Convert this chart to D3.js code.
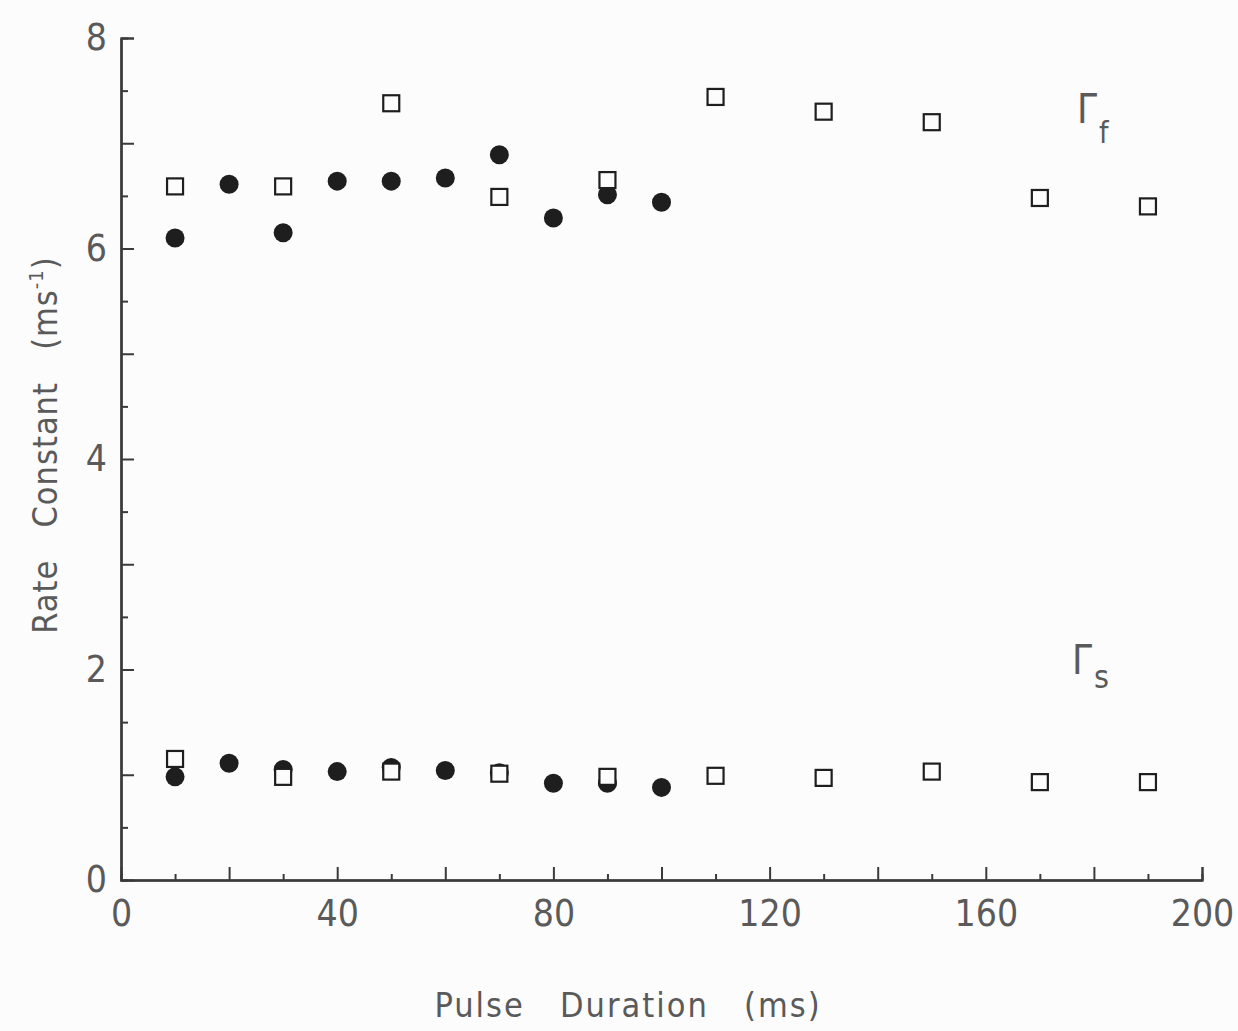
<!DOCTYPE html>
<html>
<head>
<meta charset="utf-8">
<script src="https://cdn.jsdelivr.net/npm/d3@7"></script>
<style>
  html, body { margin: 0; padding: 0; background: #fcfcfc; }
  svg { display: block; }
  text { font-family: "DejaVu Sans Condensed", "DejaVu Sans", sans-serif; font-weight: 200; fill: #5a5a5a; white-space: pre; }
</style>
</head>
<body>
<svg id="chart" width="1238" height="1031"></svg>
<script>
// pulse durations (ms)
var squareX = [10, 30, 50, 70, 90, 110, 130, 150, 170, 190]
var dotX = [10, 20, 30, 40, 50, 60, 70, 80, 90, 100]

// rate constants (ms^-1)
var squareFast = [6.59, 6.59, 7.38, 6.49, 6.65, 7.44, 7.30, 7.20, 6.48, 6.40]
var squareSlow = [1.15, 0.98, 1.03, 1.01, 0.98, 0.99, 0.97, 1.03, 0.93, 0.93]
var dotFast = [6.10, 6.61, 6.15, 6.64, 6.64, 6.67, 6.89, 6.29, 6.51, 6.44]
var dotSlow = [0.98, 1.11, 1.05, 1.03, 1.07, 1.04, 1.02, 0.92, 0.92, 0.88]

var xTickLabels = [0, 40, 80, 120, 160, 200]
var yTickLabels = [0, 2, 4, 6, 8]

var svg = d3.select("#chart")
var x = d3.scaleLinear().domain([0, 200]).range([121, 1202])
var y = d3.scaleLinear().domain([0, 8]).range([880, 38])

var axisColor = "#3a3a3a"

// minor ticks first
svg.append("g")
  .attr("transform", "translate(0,880)")
  .call(d3.axisBottom(x).tickValues(d3.range(10, 200, 20)).tickSize(-6).tickFormat(""))
svg.append("g")
  .attr("transform", "translate(0,880)")
  .call(d3.axisBottom(x).tickValues(d3.range(20, 201, 20)).tickSize(-13).tickFormat(""))
svg.append("g")
  .attr("transform", "translate(121,0)")
  .call(d3.axisLeft(y).tickValues(d3.range(0.5, 8, 1)).tickSize(-7).tickFormat(""))
svg.append("g")
  .attr("transform", "translate(121,0)")
  .call(d3.axisLeft(y).tickValues(d3.range(1, 9, 1)).tickSize(-13).tickFormat(""))

// labelled axes
svg.append("g")
  .attr("transform", "translate(0,880)")
  .call(d3.axisBottom(x).tickValues(xTickLabels).tickSize(0).tickPadding(20))
svg.append("g")
  .attr("transform", "translate(121,0)")
  .call(d3.axisLeft(y).tickValues(yTickLabels).tickSize(0).tickPadding(14))

svg.selectAll(".domain").attr("stroke", axisColor).attr("stroke-width", 2)
svg.selectAll(".tick line").attr("stroke", axisColor).attr("stroke-width", 2)
svg.selectAll(".tick text").attr("font-size", 37).attr("fill", "#5a5a5a")
  .style("font-family", '"DejaVu Sans Condensed", "DejaVu Sans", sans-serif')
  .style("font-weight", 200)

// axis titles
svg.append("text")
  .attr("x", 628).attr("y", 1017)
  .attr("text-anchor", "middle")
  .attr("font-size", 34)
  .attr("letter-spacing", 2)
  .text("Pulse   Duration   (ms)")

var yTitle = svg.append("text")
  .attr("transform", "translate(57,445) rotate(-90)")
  .attr("text-anchor", "middle")
  .attr("font-size", 34)
  .attr("letter-spacing", 1)
yTitle.append("tspan").text("Rate   Constant   (ms")
yTitle.append("tspan").attr("font-size", 20).attr("dy", -14).text("-1")
yTitle.append("tspan").attr("dy", 14).text(")")

// markers
var markColor = "#1e1e1e"
function dots(xs, ys) {
  svg.append("g").selectAll("circle")
    .data(xs.map(function(d, i) { return [d, ys[i]] }))
    .join("circle")
    .attr("cx", function(d) { return x(d[0]) })
    .attr("cy", function(d) { return y(d[1]) })
    .attr("r", 9.5)
    .attr("fill", markColor)
}
function squares(xs, ys) {
  svg.append("g").selectAll("rect")
    .data(xs.map(function(d, i) { return [d, ys[i]] }))
    .join("rect")
    .attr("x", function(d) { return x(d[0]) - 8 })
    .attr("y", function(d) { return y(d[1]) - 8 })
    .attr("width", 16)
    .attr("height", 16)
    .attr("fill", "#fcfcfc")
    .attr("stroke", markColor)
    .attr("stroke-width", 2.2)
}
dots(dotX, dotFast)
dots(dotX, dotSlow)
squares(squareX, squareFast)
squares(squareX, squareSlow)

// Gamma labels
svg.append("text").attr("x", 1077).attr("y", 123).attr("font-size", 40).text("Γ")
svg.append("text").attr("x", 1099).attr("y", 143).attr("font-size", 30).text("f")

svg.append("text").attr("x", 1072).attr("y", 674).attr("font-size", 40).text("Γ")
svg.append("text").attr("x", 1094).attr("y", 688).attr("font-size", 32).text("s")
</script>
</body>
</html>
